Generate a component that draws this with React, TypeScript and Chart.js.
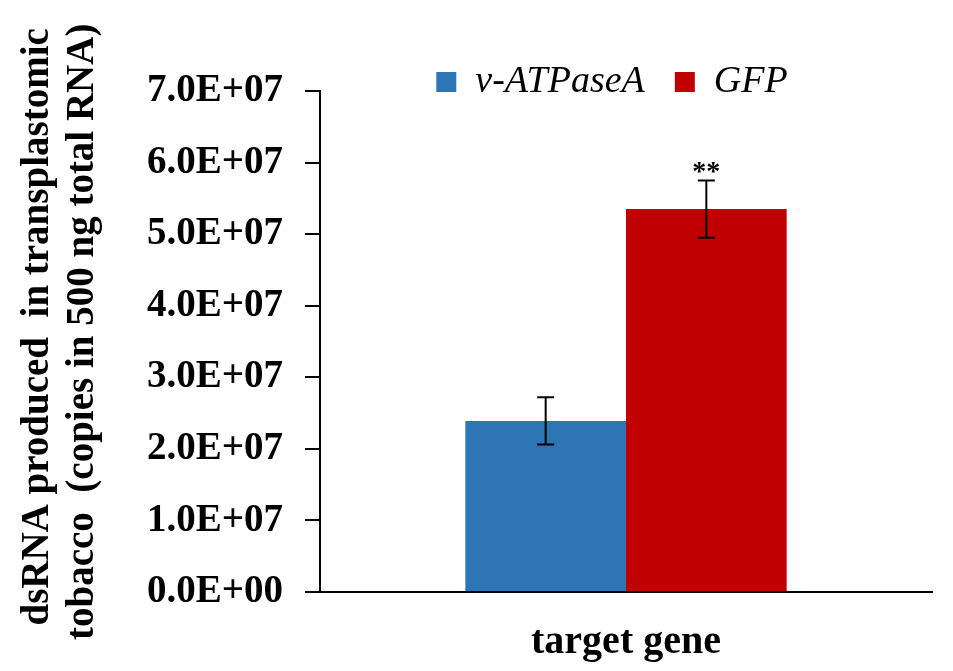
import React, { useEffect, useRef } from "react";
import { Chart, registerables } from "chart.js";

Chart.register(...registerables);

// ---- Data ----
const categories = ["target gene"];
const seriesNames = ["v-ATPaseA", "GFP"];
const vATPaseAValues = [2.39e7];
const gfpValues = [5.35e7];
const vATPaseAErrors = [0.33e7];
const gfpErrors = [0.4e7];
const vATPaseASignificance = [""];
const gfpSignificance = ["**"];
const yTickLabels = [
  "0.0E+00",
  "1.0E+07",
  "2.0E+07",
  "3.0E+07",
  "4.0E+07",
  "5.0E+07",
  "6.0E+07",
  "7.0E+07",
];
const yTitleLines = ["   dsRNA produced  in transplastomic", "  tobacco  (copies in 500 ng total RNA)"];
const xTitle = "target gene";

const seriesErrors = [vATPaseAErrors, gfpErrors];
const seriesSignificance = [vATPaseASignificance, gfpSignificance];

const SERIF = "'Liberation Serif', 'Times New Roman', serif";

const errorBarPlugin = {
  id: "errorBars",
  afterLayout(chart: any) {
    // let the legend draw beyond its clipped layout box, nudged slightly left
    const lg = chart.legend;
    if (lg) {
      lg.height = 80;
      lg.bottom = lg.top + 80;
      lg.left -= 28;
      lg.right -= 0;
    }
  },
  afterDatasetsDraw(chart: any) {
    const ctx = chart.ctx;
    const yScale = chart.scales.y;
    chart.data.datasets.forEach((ds: any, i: number) => {
      const meta = chart.getDatasetMeta(i);
      meta.data.forEach((bar: any, j: number) => {
        const v = ds.data[j];
        const e = seriesErrors[i][j];
        const x = bar.x;
        const yTop = yScale.getPixelForValue(v + e);
        const yBot = yScale.getPixelForValue(v - e);
        const cap = 8.5;
        ctx.save();
        ctx.strokeStyle = "#000";
        ctx.lineWidth = 2;
        ctx.beginPath();
        ctx.moveTo(x, yTop);
        ctx.lineTo(x, yBot);
        ctx.moveTo(x - cap, yTop);
        ctx.lineTo(x + cap, yTop);
        ctx.moveTo(x - cap, yBot);
        ctx.lineTo(x + cap, yBot);
        ctx.stroke();
        const sig = seriesSignificance[i][j];
        if (sig) {
          ctx.fillStyle = "#000";
          ctx.font = `bold 28px ${SERIF}`;
          ctx.textAlign = "center";
          ctx.textBaseline = "alphabetic";
          ctx.fillText(sig, x, yTop);
        }
        ctx.restore();
      });
    });
  },
};

export default function App() {
  const canvasRef = useRef<HTMLCanvasElement | null>(null);

  useEffect(() => {
    const canvas = canvasRef.current;
    if (!canvas) return;
    const chart = new Chart(canvas, {
      type: "bar",
      data: {
        labels: categories,
        datasets: [
          {
            label: seriesNames[0],
            data: vATPaseAValues,
            backgroundColor: "#2E75B6",
            borderWidth: 0,
          },
          {
            label: seriesNames[1],
            data: gfpValues,
            backgroundColor: "#C00000",
            borderWidth: 0,
          },
        ],
      },
      options: {
        responsive: false,
        animation: false,
        devicePixelRatio: 1,
        layout: { padding: { top: 33, right: 21, bottom: 0, left: 0 } },
        datasets: {
          bar: { categoryPercentage: 0.525, barPercentage: 1 },
        },
        plugins: {
          legend: {
            display: true,
            position: "top",
            fullSize: false,
            maxHeight: 58,
            labels: {
              boxWidth: 20,
              boxHeight: 20,
              padding: 30,
              color: "#000",
              font: { family: SERIF, size: 38, style: "italic", weight: "normal" },
            },
          },
          tooltip: { enabled: false },
        },
        scales: {
          x: {
            grid: { display: false },
            border: { display: true, color: "#000", width: 2 },
            ticks: { display: false },
            title: {
              display: true,
              text: xTitle,
              color: "#000",
              font: { family: SERIF, size: 40, weight: "bold" },
              padding: { top: 0, bottom: 4 },
            },
            afterFit: (scale: any) => {
              scale.height = 79;
            },
          },
          y: {
            min: 0,
            max: 7e7,
            ticks: {
              stepSize: 1e7,
              color: "#000",
              padding: 22,
              font: { family: SERIF, size: 39, weight: "bold" },
              callback: (_v: any, index: number) => yTickLabels[index],
            },
            grid: {
              display: true,
              drawOnChartArea: false,
              drawTicks: true,
              tickLength: 15,
              color: "#000",
              lineWidth: 2,
            },
            border: { display: true, color: "#000", width: 2 },
            title: {
              display: true,
              text: yTitleLines,
              color: "#000",
              font: { family: SERIF, size: 39, weight: "bold", lineHeight: 45 / 39 },
              padding: { top: 15.5, bottom: 0 },
            },
            afterFit: (scale: any) => {
              scale.width = 320;
            },
          },
        },
      },
      plugins: [errorBarPlugin],
    } as any);
    return () => chart.destroy();
  }, []);

  return (
    <div style={{ position: "absolute", left: 0, top: 0, width: 953, height: 671, background: "#fff" }}>
      <canvas ref={canvasRef} width={953} height={671} style={{ display: "block" }} />
    </div>
  );
}
